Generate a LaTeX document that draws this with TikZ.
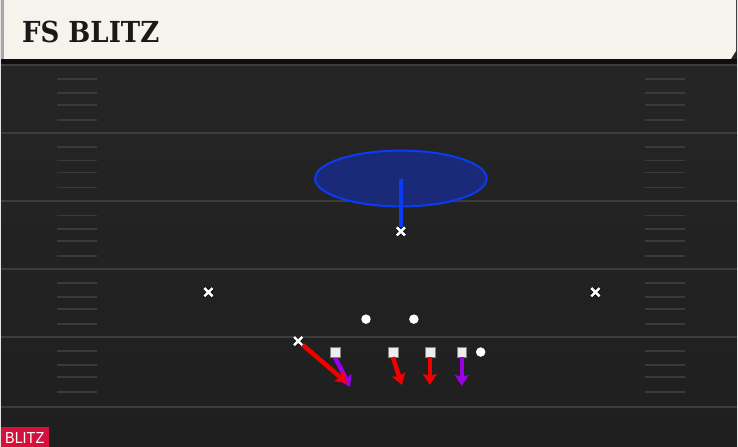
\documentclass[tikz,border=0pt]{standalone}
\usepackage{fontspec}
\usetikzlibrary{shapes.misc,shapes.geometric,arrows.meta}
\newfontfamily\titlefont{DejaVu Serif}
\newfontfamily\tagfont{Liberation Sans}
\definecolor{fieldtop}{HTML}{262626}
\definecolor{fieldbot}{HTML}{1F1F1F}
\definecolor{yardline}{HTML}{3C3C3C}
\definecolor{hashline}{HTML}{3A3A3A}
\definecolor{cream}{HTML}{F5F3EC}
\definecolor{zonefill}{HTML}{1B2A78}
\definecolor{zoneblue}{HTML}{0B3BF2}
\definecolor{blitzred}{HTML}{F20000}
\definecolor{blitzpurple}{HTML}{9A00E6}
\definecolor{tagred}{HTML}{D6103C}
\begin{document}
\begin{tikzpicture}[x=1pt, y=-1pt, >={Stealth[length=11pt,width=14pt,inset=2pt]},
    defender/.style={cross out, draw=black, double=white, double distance=2.6pt, line width=.7pt, minimum size=7.5pt, inner sep=0pt},
    lineman/.style={rectangle, fill=white!93!black, draw=gray, line width=.5pt, minimum size=10pt, inner sep=0pt},
    back/.style={circle, fill=white, minimum size=9.5pt, inner sep=0pt},
    rush/.style={->, line width=4.5pt, draw=#1}]
% field
\shade[top color=fieldtop, bottom color=fieldbot] (0,0) rectangle (738,448);
\foreach \y in {65,133,202,270,338,408}
    \draw[yardline, line width=2pt] (0,\y)--(738,\y);
\foreach \y in {65,133,202,270,338}
  \foreach \d in {14,28,40,55}{
    \draw[hashline, line width=1.8pt] (56,\y+\d)--(96,\y+\d);
    \draw[hashline, line width=1.8pt] (646,\y+\d)--(686,\y+\d);
  }

% header
\fill[black, opacity=.6] (0,59) rectangle (738,64);
\fill[cream] (0,0)--(737,0)--(737,51)--(732,59)--(0,59)--cycle;
\fill[gray!70] (0,0) rectangle (3,59);
\node[anchor=base west, inner sep=0pt, font=\titlefont\bfseries\fontsize{29}{29}\selectfont, text=black!90]
    (title) at (21,43) {\scalebox{.9}[1]{FS BLITZ}};

% zone
\node[ellipse, draw=zoneblue, fill=zonefill, line width=2pt, minimum width=172pt, minimum height=56pt] (zone) at (401,179) {};
\node[defender] (fs) at (401,232) {};
\draw[zoneblue, line width=4pt] (zone.center)--(fs.north);

% defense
\node[defender] (cbl) at (208,293) {};
\node[defender] (cbr) at (596,293) {};
\node[defender] (lb) at (298,342) {};

% offense
\node[back] (rbl) at (366,320) {};
\node[back] (rbr) at (414,320) {};
\node[back] (te) at (481,353) {};
\node[lineman] (ol1) at (335,353) {};
\node[lineman] (ol2) at (393,353) {};
\node[lineman] (ol3) at (430,353) {};
\node[lineman] (ol4) at (462,353) {};

% rush lanes
\coordinate (e1) at (347,384);
\coordinate (e2) at (350,388);
\coordinate (e3) at (402,386);
\coordinate (e4) at (430,386);
\coordinate (e5) at (462,387);
\draw[rush=blitzpurple] (ol1.south)--(e2);
\draw[rush=blitzred] (lb)--(e1);
\draw[rush=blitzred] (ol2.south)--(e3);
\draw[rush=blitzred] (ol3.south)--(e4);
\draw[rush=blitzpurple] (ol4.south)--(e5);
\node[lineman] at (ol1) {};
\node[defender] at (lb) {};

% tag
\fill[tagred] (0,428) rectangle (48,448);
\node[anchor=base west, inner sep=0pt, text=white, font=\tagfont\fontsize{16}{16}\selectfont]
    (tag) at (4,445) {\scalebox{.9}[1]{BLITZ}};
\end{tikzpicture}
\end{document}
